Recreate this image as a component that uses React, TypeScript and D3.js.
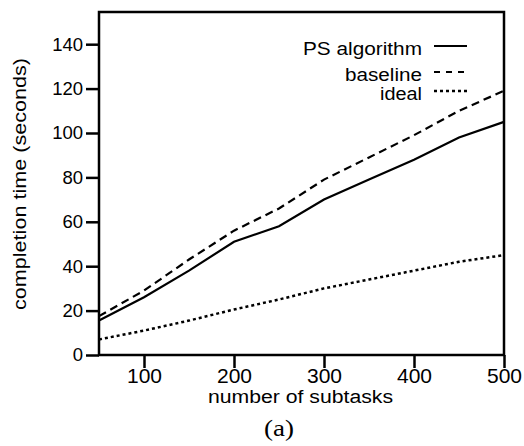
import { useEffect, useRef } from "react";
import { axisBottom, axisLeft, line, scaleLinear, select } from "d3";

const subtasks = [50, 100, 150, 200, 250, 300, 350, 400, 450, 500];
const psAlgorithm = [15.5, 26, 38, 51, 58, 70, 79, 88, 98, 105];
const baseline = [17.5, 29, 43, 56, 66, 79, 89, 99, 110, 119];
const ideal = [7, 11, 15.5, 20.5, 25, 30, 34, 38, 42, 45];
const xTicks = [100, 200, 300, 400, 500];
const yTicks = [0, 20, 40, 60, 80, 100, 120, 140];

const series = [
  { name: "PS algorithm", values: psAlgorithm, dash: "none", keyDash: "none", legendY: 46, textW: 119 },
  { name: "baseline", values: baseline, dash: "8,5", keyDash: "6,6", legendY: 72, textW: 77 },
  { name: "ideal", values: ideal, dash: "3,3", keyDash: "3,3", legendY: 91, textW: 42 },
];

const width = 524;
const height = 446;
const font = "'Liberation Sans', Arial, sans-serif";

export default function App() {
  const ref = useRef<SVGSVGElement>(null);

  useEffect(() => {
    if (!ref.current) return;
    const svg = select(ref.current);
    svg.selectAll("*").remove();

    const x = scaleLinear().domain([50, 500]).range([99, 504]);
    const y = scaleLinear().domain([0, 154.5]).range([355, 12]);

    // frame
    svg
      .append("rect")
      .attr("x", 99)
      .attr("y", 12)
      .attr("width", 504 - 99)
      .attr("height", 355 - 12)
      .attr("fill", "none")
      .attr("stroke", "#000")
      .attr("stroke-width", 2.5);

    const xAxis = svg
      .append("g")
      .attr("transform", "translate(0,355)")
      .call(axisBottom(x).tickValues(xTicks).tickSize(13).tickPadding(0));
    xAxis.select(".domain").remove();
    xAxis.selectAll("line").attr("stroke-width", 2.5);
    xAxis
      .selectAll("text")
      .attr("font-family", font)
      .attr("font-size", 21)
      .attr("fill", "#000");

    const yAxis = svg
      .append("g")
      .attr("transform", "translate(99,0)")
      .call(axisLeft(y).tickValues(yTicks).tickSize(13).tickPadding(3));
    yAxis.select(".domain").remove();
    yAxis.selectAll("line").attr("stroke-width", 2.5);
    yAxis
      .selectAll("text")
      .attr("font-family", font)
      .attr("font-size", 18.5)
      .attr("fill", "#000");

    const gen = line<number>()
      .x((_, i) => x(subtasks[i]))
      .y((d) => y(d));

    series.forEach((s) => {
      svg
        .append("path")
        .datum(s.values)
        .attr("d", gen)
        .attr("fill", "none")
        .attr("stroke", "#000")
        .attr("stroke-width", s.name === "ideal" ? 2.5 : 2.2)
        .attr("stroke-dasharray", s.dash);

      svg
        .append("text")
        .attr("x", 422 - s.textW)
        .attr("y", s.legendY + 9)
        .attr("font-family", font)
        .attr("font-size", 17.5)
        .attr("textLength", s.textW)
        .attr("lengthAdjust", "spacingAndGlyphs")
        .text(s.name);

      svg
        .append("line")
        .attr("x1", 434)
        .attr("x2", 467)
        .attr("y1", s.legendY)
        .attr("y2", s.legendY)
        .attr("stroke", "#000")
        .attr("stroke-width", s.name === "ideal" ? 2.5 : 2)
        .attr("stroke-dasharray", s.keyDash);
    });

    svg
      .append("text")
      .attr("x", 208)
      .attr("y", 403)
      .attr("font-family", font)
      .attr("font-size", 18)
      .attr("textLength", 185)
      .attr("lengthAdjust", "spacingAndGlyphs")
      .text("number of subtasks");

    svg
      .append("text")
      .attr("transform", "translate(26,310) rotate(-90)")
      .attr("font-family", font)
      .attr("font-size", 18)
      .attr("textLength", 252)
      .attr("lengthAdjust", "spacingAndGlyphs")
      .text("completion time (seconds)");

    svg
      .append("text")
      .attr("x", 264)
      .attr("y", 436)
      .attr("font-family", "'Liberation Serif', 'Times New Roman', serif")
      .attr("font-size", 23)
      .attr("textLength", 30)
      .attr("lengthAdjust", "spacingAndGlyphs")
      .text("(a)");
  }, []);

  return (
    <svg
      ref={ref}
      width={width}
      height={height}
      style={{ position: "absolute", left: 0, top: 0, background: "#fff" }}
    />
  );
}
